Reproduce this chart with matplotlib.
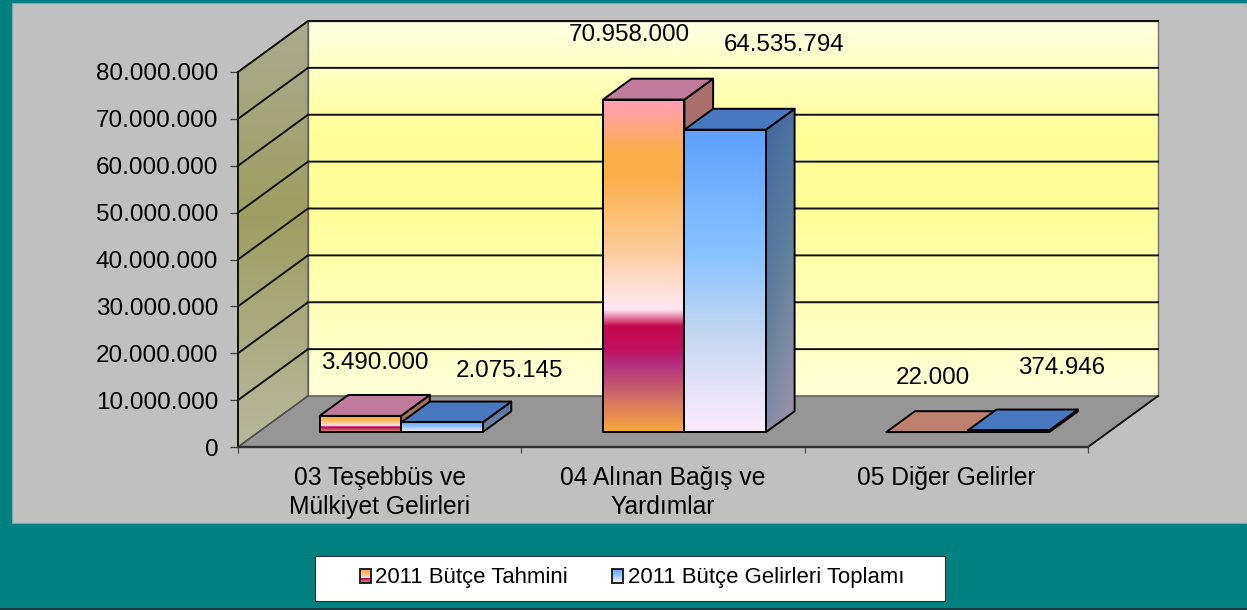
import numpy as np
import matplotlib
matplotlib.use('Agg')
import matplotlib.pyplot as plt
from matplotlib.colors import LinearSegmentedColormap
from matplotlib.patches import Polygon, Rectangle, Patch
from matplotlib.legend_handler import HandlerBase
from matplotlib.ticker import FuncFormatter

plt.rcParams['font.family'] = ['Liberation Sans', 'DejaVu Sans']

categories = ['03 Teşebbüs ve\nMülkiyet Gelirleri', '04 Alınan Bağış ve\nYardımlar', '05 Diğer Gelirler']
series_names = ['2011 Bütçe Tahmini', '2011 Bütçe Gelirleri Toplamı']
tahmin = [3490000, 70958000, 22000]
toplam = [2075145, 64535794, 374946]
y_ticks = [0, 10000000, 20000000, 30000000, 40000000, 50000000, 60000000, 70000000, 80000000]

W, H = 1247, 610
# pixel box of the front plane of the fake 3d chart
LEFT, RIGHT, TOP, BOTTOM = 238, 1088, 72, 447
YMAX = 80000000
# how far the back wall sits from the front plane, in data units
DX = 70 / ((RIGHT - LEFT) / 3)
DY = 51 / ((BOTTOM - TOP) / YMAX)

# label nudges from the front top centre of each bar, in pixels
NUDGE_A = [(14, 53), (-14, 65), (6, 54)]
NUDGE_B = [(68, 51), (59, 85), (53, 62)]

# gradients as (fraction from top, colour)
PINK = [(0, '#FF9FBC'), (0.16, '#FAAF48'), (0.24, '#FAB04C'), (0.45, '#FCCB98'), (0.6, '#FFE4E6'),
        (0.633, '#FFE6F2'), (0.683, '#C4084C'), (0.75, '#C0105C'), (0.8, '#B43080'),
        (0.9, '#D07064'), (1, '#F8A840')]
BLUE = [(0, '#5E9FFF'), (0.43, '#8CC4FF'), (0.69, '#C8D8F0'), (1, '#FCECFC')]
WALL = [(0, '#FFFFE2'), (0.3, '#FFFF9A'), (0.5, '#FFFF99'), (1, '#FFFFD8')]
SIDE = [(0, '#ABAB8F'), (0.45, '#9E9E62'), (1, '#B8B89C')]
PINK_SIDE = [(0, '#AE6C74'), (1, '#9A7C4C')]
BLUE_SIDE = [(0, '#3D649F'), (0.5, '#5F7F9F'), (1, '#A496A8')]

PINK_TOP = '#C17B9A'
BLUE_TOP = '#4878BE'
FLAT_TOP = '#BD806C'


def proj(x, v, d):
    return (x + d * DX, v + d * DY)


def cmap_of(stops):
    return LinearSegmentedColormap.from_list('g', stops)


def fill_poly(ax, verts, stops, z, diag=False):
    # gradient clipped to a polygon, vertical unless diag is set
    xs = [p[0] for p in verts]
    ys = [p[1] for p in verts]
    yy, xx = np.mgrid[0:1:256j, 0:1:64j]
    field = (yy * 0.75 + xx * 0.25) if diag else yy
    im = ax.imshow(field, extent=(min(xs), max(xs), min(ys), max(ys)), origin='upper', aspect='auto',
                   cmap=cmap_of(stops), vmin=0, vmax=1, zorder=z, interpolation='bilinear')
    im.set_clip_box(fig.bbox)
    im.set_clip_path(Polygon(verts, transform=ax.transData))


def outline(ax, verts, z, fc='none', ec='black', lw=1.4):
    ax.add_patch(Polygon(verts, closed=True, fc=fc, ec=ec, lw=lw, zorder=z, clip_on=False, joinstyle='round'))


def draw_bar(ax, x0, x1, val, front, side, top, z):
    d0, d1 = 0.29, 0.70
    f = [proj(x0, 0, d0), proj(x1, 0, d0), proj(x1, val, d0), proj(x0, val, d0)]
    s = [proj(x1, 0, d0), proj(x1, 0, d1), proj(x1, val, d1), proj(x1, val, d0)]
    t = [proj(x0, val, d0), proj(x1, val, d0), proj(x1, val, d1), proj(x0, val, d1)]
    fill_poly(ax, s, side, z, diag=True)
    outline(ax, s, z + 0.1)
    outline(ax, t, z + 0.2, fc=top)
    fill_poly(ax, f, front, z + 0.3)
    outline(ax, f, z + 0.4)


class GradHandler(HandlerBase):
    # small striped swatch, the legend key of a gradient bar
    def __init__(self, stops):
        super().__init__()
        self.stops = stops

    def create_artists(self, legend, orig, xd, yd, width, height, fontsize, trans):
        cm = cmap_of(self.stops)
        arts = []
        n = 12
        for i in range(n):
            arts.append(Rectangle((xd * -1, yd * -1 + height * (n - 1 - i) / n), width, height / n,
                                  fc=cm((i + 0.5) / n), ec='none', transform=trans))
        arts.append(Rectangle((-xd, -yd), width, height, fc='none', ec='#202020', lw=1.4, transform=trans))
        return arts


fig = plt.figure(figsize=(W / 100, H / 100), dpi=100, facecolor='#008080')
fig.add_artist(Rectangle((12 / W, 1 - 523 / H), (W - 12) / W, 520 / H, transform=fig.transFigure,
                         fc='#C0C0C0', ec='#6FB0B0', lw=0.8, zorder=-5))
fig.add_artist(Rectangle((315 / W, 1 - 601 / H), 630 / W, 45 / H, transform=fig.transFigure,
                         fc='white', ec='#303030', lw=0.8, zorder=-4))
fig.add_artist(Rectangle((0, 0), 1, 2 / H, transform=fig.transFigure, fc='#173F3F', ec='none', zorder=-4))

ax = fig.add_axes([LEFT / W, 1 - BOTTOM / H, (RIGHT - LEFT) / W, (BOTTOM - TOP) / H])
ax.patch.set_visible(False)

# walls and floor
back = [proj(0, 0, 1), proj(3, 0, 1), proj(3, YMAX, 1), proj(0, YMAX, 1)]
side_wall = [proj(0, 0, 0), proj(0, 0, 1), proj(0, YMAX, 1), proj(0, YMAX, 0)]
floor = [proj(0, 0, 0), proj(3, 0, 0), proj(3, 0, 1), proj(0, 0, 1)]
fill_poly(ax, back, WALL, 1)
fill_poly(ax, side_wall, SIDE, 1)
outline(ax, back, 1.1, ec='#707070', lw=1.0)
outline(ax, side_wall, 1.1, ec='#606060', lw=1.0)
outline(ax, floor, 1.2, fc='#969696', ec='#555555', lw=1.0)

# gridlines run along the side wall and then across the back
for v in y_ticks[1:]:
    pts = [proj(0, v, 0), proj(0, v, 1), proj(3, v, 1)]
    ax.plot([p[0] for p in pts], [p[1] for p in pts], color='#101010', lw=1.4, zorder=1.5, clip_on=False)
pts = [proj(3, 0, 0), proj(3, 0, 1)]
ax.plot([p[0] for p in pts], [p[1] for p in pts], color='#101010', lw=1.3, zorder=1.5, clip_on=False)
pts = [proj(0, 0, 0), proj(0, 0, 1)]
ax.plot([p[0] for p in pts], [p[1] for p in pts], color='#505050', lw=1.0, zorder=1.5, clip_on=False)

# bars
BAR_W = 0.2875
z = 3
for i in range(3):
    c = i + 0.504
    draw_bar(ax, c - BAR_W, c, tahmin[i], PINK, PINK_SIDE, FLAT_TOP if i == 2 else PINK_TOP, z)
    draw_bar(ax, c, c + BAR_W, toplam[i], BLUE, BLUE_SIDE, BLUE_TOP, z + 1)
    z += 2
    ax.annotate(f'{tahmin[i]:,}'.replace(',', '.'), proj(c - BAR_W / 2, tahmin[i], 0.29), xytext=NUDGE_A[i],
                textcoords='offset pixels', ha='center', va='center', fontsize=17.4, color='black',
                zorder=20, annotation_clip=False)
    ax.annotate(f'{toplam[i]:,}'.replace(',', '.'), proj(c + BAR_W / 2, toplam[i], 0.29), xytext=NUDGE_B[i],
                textcoords='offset pixels', ha='center', va='center', fontsize=17.4, color='black',
                zorder=20, annotation_clip=False)

ax.set_xlim(0, 3)
ax.set_ylim(0, YMAX)

ax.set_yticks(y_ticks)
ax.yaxis.set_major_formatter(FuncFormatter(lambda v, p: f'{int(v):,}'.replace(',', '.')))
ax.tick_params(axis='y', length=5.8, width=0.9, color='#404040', pad=8.5, labelsize=17.5)
ax.set_xticks([0, 1, 2, 3])
ax.set_xticklabels([])
ax.set_xticks([0.5, 1.5, 2.5], labels=categories, minor=True)
ax.tick_params(axis='x', which='major', length=4.5, width=0.9, color='#505050')
ax.tick_params(axis='x', which='minor', length=0, pad=13.5, labelsize=17.7)
for lab in ax.get_xticklabels(minor=True):
    lab.set_linespacing(1.28)

for name in ['top', 'right']:
    ax.spines[name].set_visible(False)
ax.spines['left'].set_linewidth(1.4)
ax.spines['left'].set_color('#101010')
ax.spines['bottom'].set_linewidth(1.7)
ax.spines['bottom'].set_color('#303030')

h_a = Patch(label=series_names[0])
h_b = Patch(label=series_names[1])
fig.legend(handles=[h_a, h_b], handler_map={h_a: GradHandler(PINK), h_b: GradHandler(BLUE)},
           loc='center', bbox_to_anchor=(632 / W, 1 - 578 / H), ncol=2, frameon=False, fontsize=15.9,
           handlelength=0.5, handleheight=0.6, handletextpad=0.2, columnspacing=2.0, labelcolor='black')

fig.savefig('out.png', dpi=100, facecolor=fig.get_facecolor())
